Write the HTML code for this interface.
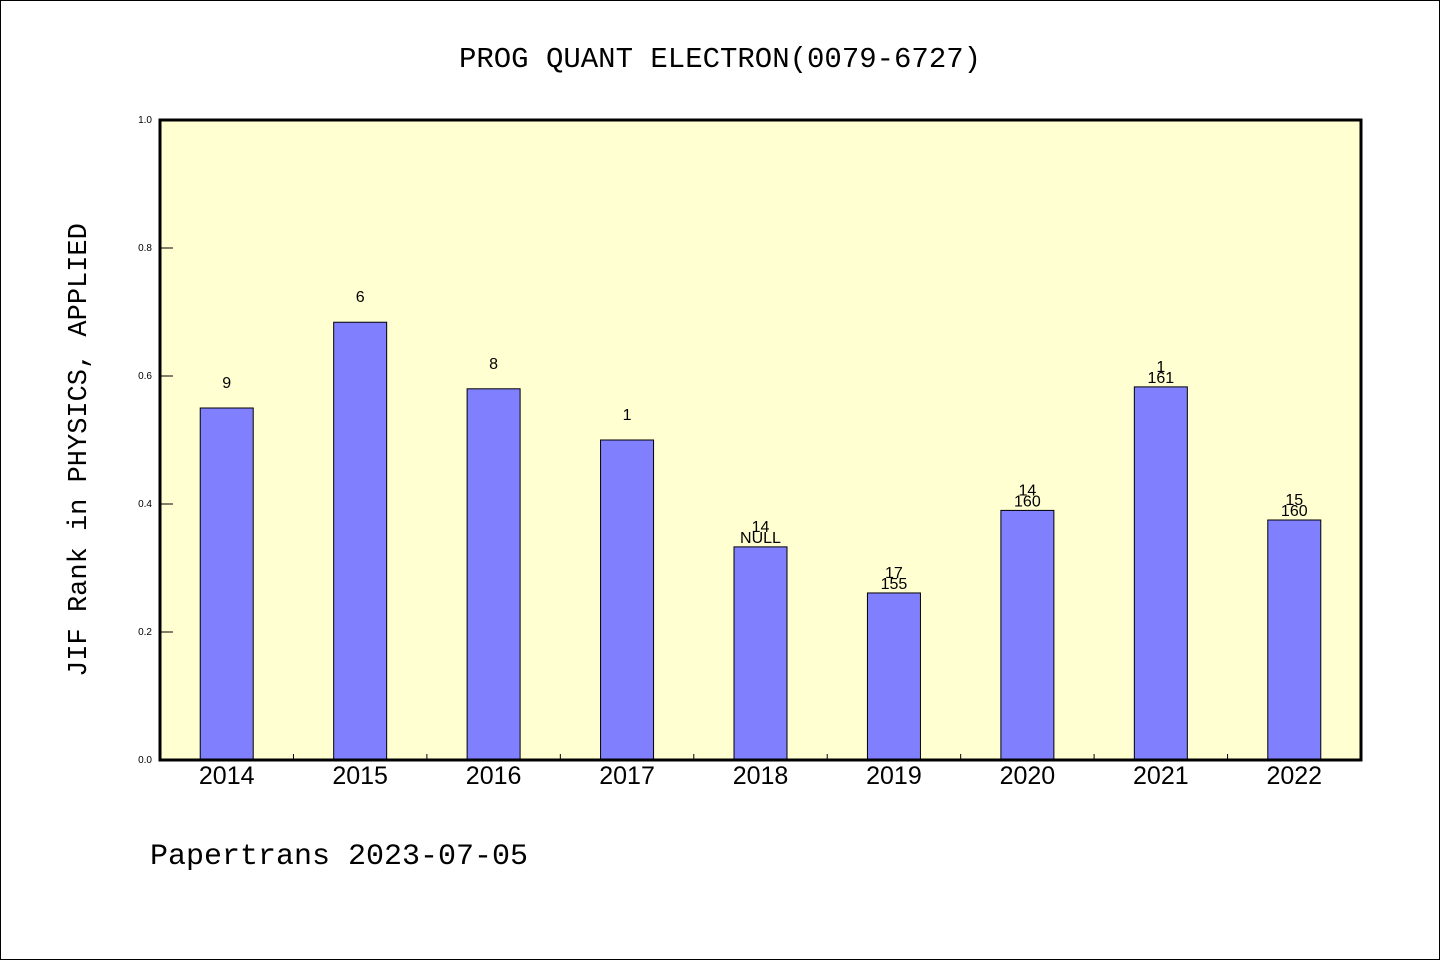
<!DOCTYPE html>
<html><head><meta charset="utf-8"><style>
html,body{margin:0;padding:0;background:#fff}
svg text{font-family:"Liberation Sans","WenQuanYi Zen Hei",sans-serif}
.mono{font-family:"Liberation Mono","WenQuanYi Zen Hei",monospace}
</style></head><body>
<svg id="chart" width="1440" height="960" xmlns="http://www.w3.org/2000/svg">
<rect x="0.5" y="0.5" width="1439" height="959" fill="#fff" stroke="#000"/>
<text x="720" y="67" text-anchor="middle" font-size="29" class="mono">PROG QUANT ELECTRON(0079-6727)</text>
<rect x="160" y="120" width="1201" height="640" fill="#ffffd2"/>
<g id="marks"></g>
<rect x="160" y="120" width="1201" height="640" fill="none" stroke="#000" stroke-width="3"/>
<text transform="translate(86,450) rotate(-90)" text-anchor="middle" font-size="27" class="mono">JIF Rank in PHYSICS, APPLIED</text>
<text x="150" y="864" font-size="30" class="mono">Papertrans 2023-07-05</text>
</svg>
<script>
const categories=["2014","2015","2016","2017","2018","2019","2020","2021","2022"];
const values=[0.55,0.684,0.58,0.5,0.333,0.261,0.39,0.583,0.375];
const labelTop=["","","","","14","17","14","1","15"];
const labelMain=["9","6","8","1","NULL","155","160","161","160"];
const yTicks=[0,0.2,0.4,0.6,0.8,1.0];
const yTickLabels=["0.0","0.2","0.4","0.6","0.8","1.0"];
const X0=160,W=1201,Y0=760,H=640;
const band=W/categories.length;
const xc=i=>X0+band*(i+0.5);
const y=v=>Y0-v*H;
const g=document.getElementById('marks');
const NS="http://www.w3.org/2000/svg";
function mk(t,a){const e=document.createElementNS(NS,t);for(const k in a)e.setAttribute(k,a[k]);g.appendChild(e);return e;}
yTicks.forEach((v,i)=>{
  const l=mk('line',{x1:X0,x2:X0+13,y1:y(v),y2:y(v),stroke:'#000','stroke-width':1});
  
  
  const t=mk('text',{x:X0-8,y:y(v)+3,'text-anchor':'end','font-size':10});
  t.textContent=yTickLabels[i];
  
  
});
for(let i=1;i<categories.length;i++){
  const l=mk('line',{x1:X0+band*i,x2:X0+band*i,y1:Y0,y2:Y0-6,stroke:'#000','stroke-width':1});
  
  
}
const bw=53;
categories.forEach((c,i)=>{
  const b=mk('rect',{x:xc(i)-bw/2,y:y(values[i]),width:bw,height:values[i]*H,fill:'#8080ff',stroke:'#000','stroke-width':1});
  
  
  const top=y(values[i]);
  if(labelTop[i]){
    const t1=mk('text',{x:xc(i),y:top-15,'text-anchor':'middle','font-size':16});
    t1.textContent=labelTop[i];
    
    
    const t2=mk('text',{x:xc(i),y:top-4,'text-anchor':'middle','font-size':16});
    t2.textContent=labelMain[i];
    
    
  } else {
    const t=mk('text',{x:xc(i),y:top-20,'text-anchor':'middle','font-size':16});
    t.textContent=labelMain[i];
    
    
  }
  const xl=mk('text',{x:xc(i),y:784,'text-anchor':'middle','font-size':25});
  xl.textContent=c;
  
  
});
</script>
</body></html>
